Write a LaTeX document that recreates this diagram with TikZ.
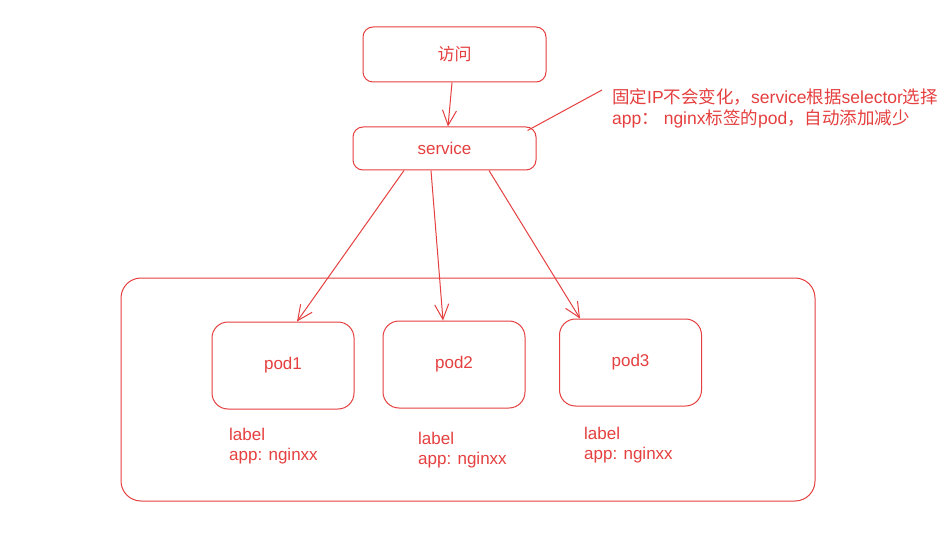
\documentclass[tikz,border=0pt]{standalone}
\usepackage{fontspec}
\setmainfont{Liberation Sans}
\newfontfamily\cjk{Noto Sans CJK SC}
\usetikzlibrary{arrows.meta,positioning}
\definecolor{sketchred}{HTML}{E5403F}

\begin{document}
\begin{tikzpicture}[
  x=1pt, y=-1pt,
  box/.style={
    draw=sketchred,
    rounded corners=10pt,
    line width=1pt,
    text=sketchred,
    font=\fontsize{17}{21}\selectfont,
    inner sep=0pt
  },
  podbox/.style={
    box,
    rounded corners=16pt,
    minimum width=142pt,
    minimum height=87pt
  },
  arr/.style={
    -{Straight Barb[length=15pt,width=14pt,line width=1pt]},
    draw=sketchred,
    line width=1pt
  },
  podlabel/.style={
    text=sketchred,
    anchor=north west,
    align=left,
    inner sep=0pt,
    font=\fontsize{17}{20}\selectfont
  }
]
\useasboundingbox[fill=white] (0,0) rectangle (944,537);

% Entry and service
\node[box, minimum width=183pt, minimum height=55pt] (fangwen) at (454.5,54.5)
  {\cjk 访问};
\node[box, minimum width=183pt, minimum height=43pt] (service) at (444.5,148.5)
  {service};

% Note
\node[podlabel, font=\fontsize{17.5}{21}\selectfont] (note) at (612,88)
  {{\cjk 固定}IP{\cjk 不会变化，}service{\cjk 根据}selector{\cjk 选择}\\
   app{\cjk ：} nginx{\cjk 标签的}pod{\cjk ，自动添加减少}};

% Pod group
\draw[sketchred, line width=1pt, rounded corners=20pt]
  (121,278) rectangle (815,501);
\node[podbox] (pod1) at (283,365.5) {pod1};
\node[podbox] (pod2) at (454,364.5) {pod2};
\node[podbox] (pod3) at (630.5,362.5) {pod3};

\node[podlabel] (lbl1) at (229,428) {label\\app: nginxx};
\node[podlabel] (lbl2) at (418,432) {label\\app: nginxx};
\node[podlabel] (lbl3) at (584,427) {label\\app: nginxx};

% Arrows
\draw[arr] ([xshift=-2.5pt]fangwen.south) -- ([xshift=3.5pt]service.north);
\draw[arr] ([xshift=-40.5pt]service.south) -- ([xshift=14pt]pod1.north);
\draw[arr] ([xshift=-13.5pt]service.south) -- ([xshift=-11pt]pod2.north);
\draw[arr] ([xshift=44.5pt]service.south) -- ([xshift=-50.5pt]pod3.north);

% Leader line to note
\draw[sketchred, line width=1pt] ([xshift=-9pt,yshift=-4pt]service.north east)
  -- ([xshift=-10pt,yshift=-2pt]note.north west);
\end{tikzpicture}
\end{document}
